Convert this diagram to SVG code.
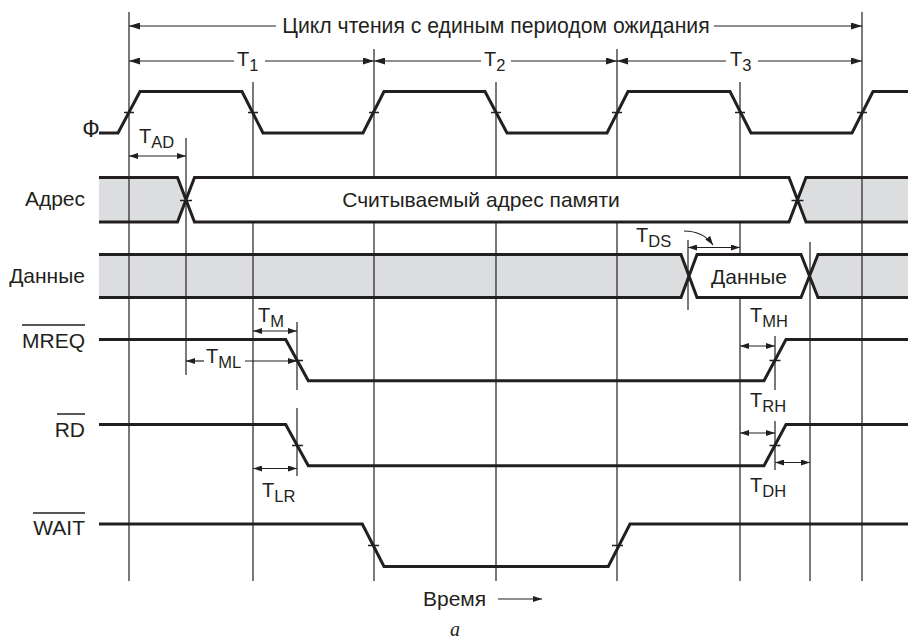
<svg xmlns="http://www.w3.org/2000/svg" width="908" height="643" viewBox="0 0 908 643">
<style>
  text { font-family: "Liberation Sans", Arial, sans-serif; fill: #231f20; }
  .lbl { font-size: 21px; }
  .t { font-size: 20px; }
  .sub { font-size: 16.5px; }
  .grid { stroke: #231f20; stroke-width: 1.2; fill: none; }
  .sig { stroke: #231f20; stroke-width: 3; fill: none; stroke-linejoin: miter; }
  .tick { stroke: #231f20; stroke-width: 1.5; fill: none; }
  .shade { fill: #dcddde; stroke: none; }
  .white { fill: #ffffff; stroke: none; }
  .dim { stroke: #231f20; stroke-width: 1.2; fill: none; }
  .two { marker-start: url(#sh); marker-end: url(#sh); }
  .end { marker-end: url(#sh); }
  .bend { marker-end: url(#ah); }
  .bstart { marker-start: url(#ah); }
</style>
<defs>
  <marker id="ah" markerUnits="userSpaceOnUse" markerWidth="11" markerHeight="7" refX="11" refY="3.5" orient="auto-start-reverse">
    <path d="M0,0 L11,3.5 L0,7 z" fill="#231f20"/>
  </marker>
  <marker id="sh" markerUnits="userSpaceOnUse" markerWidth="9" markerHeight="6" refX="9" refY="3" orient="auto-start-reverse">
    <path d="M0,0 L9,3 L0,6 z" fill="#231f20"/>
  </marker>
</defs>
<rect width="908" height="643" fill="#ffffff"/>

<g id="shading">
  <polygon class="shade" points="99,177.5 177.5,177.5 186,200 177.5,222 99,222"/>
  <polygon class="shade" points="908,177.5 806,177.5 797.5,200 806,222 908,222"/>
  <polygon class="shade" points="99,254.5 681,254.5 689,276 681,297.5 99,297.5"/>
  <polygon class="shade" points="908,254.5 818,254.5 809.5,276 818,297.5 908,297.5"/>
</g>

<g id="grid">
  <line class="grid" x1="129" y1="12" x2="129" y2="581"/>
  <line class="grid" x1="253" y1="82" x2="253" y2="581"/>
  <line class="grid" x1="374" y1="49" x2="374" y2="581"/>
  <line class="grid" x1="496" y1="82" x2="496" y2="581"/>
  <line class="grid" x1="617" y1="49" x2="617" y2="581"/>
  <line class="grid" x1="740" y1="82" x2="740" y2="581"/>
  <line class="grid" x1="862" y1="12" x2="862" y2="581"/>
  <line class="grid" x1="810" y1="242" x2="810" y2="581"/>
  <line class="grid" x1="186" y1="138" x2="186" y2="375"/>
  <line class="grid" x1="297" y1="322" x2="297" y2="390"/>
  <line class="grid" x1="297" y1="408" x2="297" y2="476"/>
  <line class="grid" x1="688" y1="240" x2="688" y2="310"/>
  <line class="grid" x1="775" y1="336" x2="775" y2="390"/>
  <line class="grid" x1="775" y1="421" x2="775" y2="470"/>
</g>

<g id="sig-phi">
  <text x="91" y="137" text-anchor="middle" style="font-size:23px">Ф</text>
  <path class="sig" d="M99,133 L118,133 L140,91.5 L242,91.5 L263,133 L363,133 L384,91.5 L485,91.5 L507,133 L607,133 L628,91.5 L730,91.5 L751,133 L852,133 L873,91.5 L908,91.5"/>
  <path class="tick" d="M124,112.5 h10 M248,112.5 h10 M369,112.5 h10 M491,112.5 h10 M612,112.5 h10 M735,112.5 h10 M857,112.5 h10"/>
</g>

<g id="sig-addr">
  <text class="lbl" x="85" y="206" text-anchor="end">Адрес</text>
  <polygon class="white" points="186,200 194.5,177.5 789,177.5 797.5,200 789,222 194.5,222"/>
  <path class="sig" d="M99,177.5 H177.5 L194.5,222 H789 L806,177.5 H908 M99,222 H177.5 L194.5,177.5 H789 L806,222 H908"/>
  <path class="tick" d="M180,200.5 h12 M791.5,200.5 h12"/>
  <text class="lbl" x="481" y="207" text-anchor="middle">Считываемый адрес памяти</text>
</g>

<g id="sig-data">
  <text class="lbl" x="85" y="283" text-anchor="end">Данные</text>
  <polygon class="white" points="689,276 697,254.5 801,254.5 809.5,276 801,297.5 697,297.5"/>
  <path class="sig" d="M99,254.5 H681 L697,297.5 H801 L818,254.5 H908 M99,297.5 H681 L697,254.5 H801 L818,297.5 H908"/>
  <text class="lbl" x="749" y="284" text-anchor="middle">Данные</text>
</g>

<g id="sig-mreq">
  <text class="lbl" x="85" y="348" text-anchor="end">MREQ</text>
  <line class="tick" x1="22" y1="325" x2="85" y2="325"/>
  <path class="sig" d="M99,339.5 H285.7 L308.3,380.7 H764 L786,339.5 H908"/>
  <path class="tick" d="M292,360.5 h11 M769.5,360.5 h11"/>
</g>

<g id="sig-rd">
  <text class="lbl" x="85" y="437" text-anchor="end">RD</text>
  <line class="tick" x1="57" y1="414" x2="85" y2="414"/>
  <path class="sig" d="M99,424.5 H285.7 L308.3,465.7 H764 L786,424.5 H908"/>
  <path class="tick" d="M292,445.5 h11 M769.5,445.5 h11"/>
</g>

<g id="sig-wait">
  <text class="lbl" x="85" y="535" text-anchor="end">WAIT</text>
  <line class="tick" x1="33" y1="513" x2="85" y2="513"/>
  <path class="sig" d="M99,524 H362.3 L384,566.5 H608.3 L630,524 H908"/>
  <path class="tick" d="M368,545.5 h11 M612,545.5 h11"/>
</g>

<g id="connectors">
  <line class="dim bstart" x1="129" y1="26" x2="276" y2="26"/>
  <line class="dim bend" x1="714" y1="26" x2="862" y2="26"/>
  <line class="dim bstart" x1="129" y1="61" x2="234" y2="61"/>
  <line class="dim bend" x1="265" y1="61" x2="374" y2="61"/>
  <line class="dim bstart" x1="374" y1="61" x2="481" y2="61"/>
  <line class="dim bend" x1="511" y1="61" x2="617" y2="61"/>
  <line class="dim bstart" x1="617" y1="61" x2="726" y2="61"/>
  <line class="dim bend" x1="758" y1="61" x2="862" y2="61"/>
  <line class="dim two" x1="129" y1="156" x2="186" y2="156"/>
  <line class="dim two" x1="253" y1="331" x2="297" y2="331"/>
  <path class="dim" d="M186,361 H204" marker-start="url(#sh)"/>
  <path class="dim end" d="M245,361 H297"/>
  <line class="dim two" x1="253" y1="468.5" x2="297" y2="468.5"/>
  <line class="dim two" x1="688" y1="247.5" x2="740" y2="247.5"/>
  <path class="dim end" d="M684,231 Q703,231 713,245"/>
  <line class="dim two" x1="740" y1="346" x2="775" y2="346"/>
  <line class="dim two" x1="740" y1="433" x2="775" y2="433"/>
  <line class="dim two" x1="775" y1="462.5" x2="810" y2="462.5"/>
  <line class="dim end" x1="498" y1="599" x2="542" y2="599"/>
</g>

<g id="labels">
  <text x="496" y="33" text-anchor="middle" style="font-size:21.2px">Цикл чтения с единым периодом ожидания</text>
  <text class="t" x="237" y="66">T<tspan class="sub" dy="5">1</tspan></text>
  <text class="t" x="484" y="66">T<tspan class="sub" dy="5">2</tspan></text>
  <text class="t" x="730" y="66">T<tspan class="sub" dy="5">3</tspan></text>
  <text class="t" x="139" y="143">T<tspan class="sub" dy="5">AD</tspan></text>
  <text class="t" x="258" y="322">T<tspan class="sub" dy="5">M</tspan></text>
  <text class="t" x="206" y="363">T<tspan class="sub" dy="5">ML</tspan></text>
  <text class="t" x="262" y="497">T<tspan class="sub" dy="5">LR</tspan></text>
  <text class="t" x="636" y="242">T<tspan class="sub" dy="5">DS</tspan></text>
  <text class="t" x="750" y="322">T<tspan class="sub" dy="5">MH</tspan></text>
  <text class="t" x="750" y="407">T<tspan class="sub" dy="5">RH</tspan></text>
  <text class="t" x="750" y="492">T<tspan class="sub" dy="5">DH</tspan></text>
  <text class="lbl" x="423" y="606">Время</text>
  <text x="455" y="636" text-anchor="middle" style="font-family:'Liberation Serif',serif;font-style:italic;font-size:20px">a</text>
</g>
</svg>
